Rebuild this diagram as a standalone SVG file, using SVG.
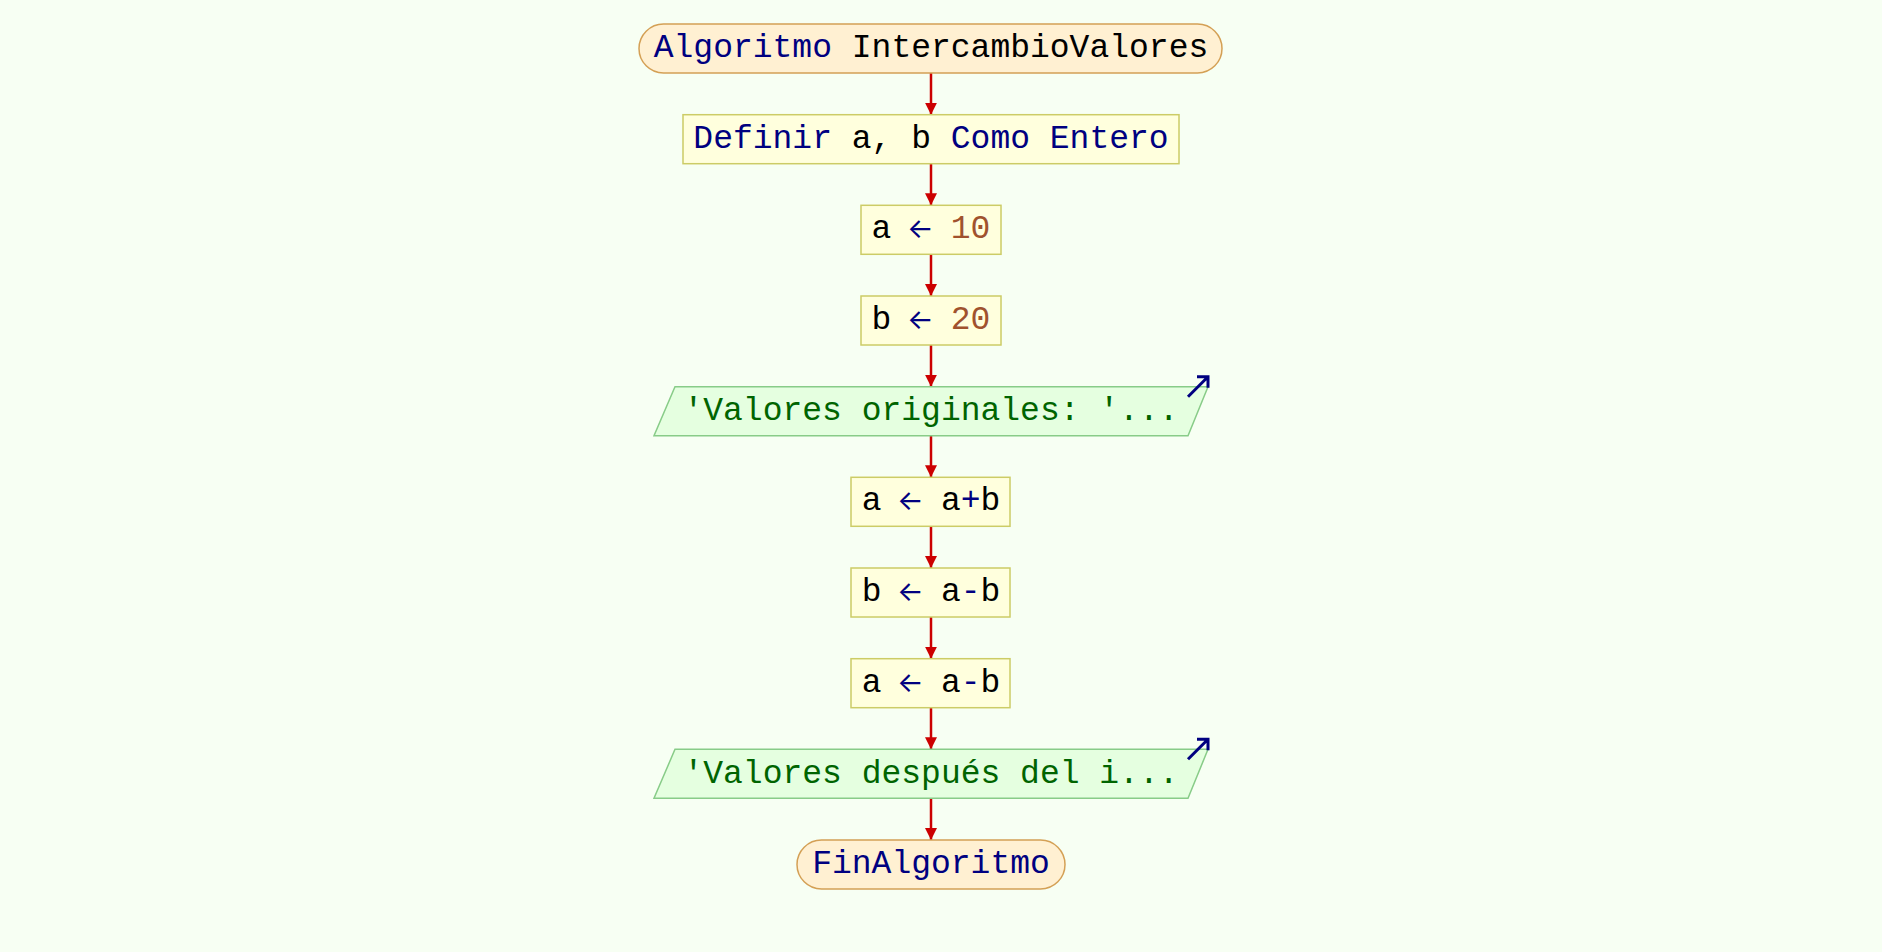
<svg xmlns="http://www.w3.org/2000/svg" width="1882" height="952" viewBox="0 0 1882 952">
<defs>
<style>
text{font-family:"Liberation Mono","DejaVu Sans Mono",monospace;font-size:33px;text-anchor:middle;fill:#000;white-space:pre}
text.st{text-anchor:start}
.term{fill:#FFF0D2;stroke:#D4A055;stroke-width:1.5}
.proc{fill:#FFFFDD;stroke:#CCCC66;stroke-width:1.5}
.io{fill:#E5FFE0;stroke:#88CC88;stroke-width:1.5}
.kw{fill:#000080}
.ar{fill:#000080;font-family:Inter,"DejaVu Sans",sans-serif;font-size:28px}
.num{fill:#A0522D}
.str{fill:#006400}
.conn{stroke:#CC0000;stroke-width:2.5;fill:none;marker-end:url(#ah)}
.icon{stroke:#000080;stroke-width:3;fill:none}
</style>
<marker id="ah" viewBox="0 0 12 12" refX="12" refY="6" markerWidth="12" markerHeight="12" markerUnits="userSpaceOnUse" orient="auto">
<path d="M0,0 L12,6 L0,12 Z" fill="#CC0000"/>
</marker>
</defs>
<rect width="1882" height="952" fill="#F7FFF3"/>
<g id="connectors">
<line class="conn" x1="931" y1="73" x2="931" y2="114.7"/>
<line class="conn" x1="931" y1="163.7" x2="931" y2="205.3"/>
<line class="conn" x1="931" y1="254.3" x2="931" y2="296"/>
<line class="conn" x1="931" y1="345" x2="931" y2="386.7"/>
<line class="conn" x1="931" y1="435.7" x2="931" y2="477.3"/>
<line class="conn" x1="931" y1="526.3" x2="931" y2="568"/>
<line class="conn" x1="931" y1="617" x2="931" y2="658.7"/>
<line class="conn" x1="931" y1="707.7" x2="931" y2="749.3"/>
<line class="conn" x1="931" y1="798.3" x2="931" y2="840"/>
</g>
<g id="n0">
<rect class="term" x="639" y="24" width="583" height="49" rx="24.5"/>
<text x="931" y="57"><tspan class="kw">Algoritmo</tspan> IntercambioValores</text>
</g>
<g id="n1">
<rect class="proc" x="683" y="114.7" width="496" height="49"/>
<text x="931" y="147.7"><tspan class="kw">Definir</tspan> a, b <tspan class="kw">Como Entero</tspan></text>
</g>
<g id="n2">
<rect class="proc" x="861" y="205.3" width="140" height="49"/>
<text class="st" y="238.3"><tspan x="871.6">a</tspan><tspan class="ar" x="907">←</tspan><tspan class="num" x="950.8">10</tspan></text>
</g>
<g id="n3">
<rect class="proc" x="861" y="296" width="140" height="49"/>
<text class="st" y="329"><tspan x="871.6">b</tspan><tspan class="ar" x="907">←</tspan><tspan class="num" x="950.8">20</tspan></text>
</g>
<g id="n4">
<polygon class="io" points="675,386.7 1208,386.7 1188,435.7 654,435.7"/>
<text x="931" y="420" class="str">'Valores originales: '...</text>
<path class="icon" d="M1188,396.7 L1208,376.7 M1197,376.7 L1208,376.7 L1208,387.7"/>
</g>
<g id="n5">
<rect class="proc" x="851" y="477.3" width="159" height="49"/>
<text class="st" y="510.3"><tspan x="861.7">a</tspan><tspan class="ar" x="897.1">←</tspan><tspan x="940.9">a</tspan><tspan class="kw">+</tspan><tspan>b</tspan></text>
</g>
<g id="n6">
<rect class="proc" x="851" y="568" width="159" height="49"/>
<text class="st" y="601"><tspan x="861.7">b</tspan><tspan class="ar" x="897.1">←</tspan><tspan x="940.9">a</tspan><tspan class="kw">-</tspan><tspan>b</tspan></text>
</g>
<g id="n7">
<rect class="proc" x="851" y="658.7" width="159" height="49"/>
<text class="st" y="691.7"><tspan x="861.7">a</tspan><tspan class="ar" x="897.1">←</tspan><tspan x="940.9">a</tspan><tspan class="kw">-</tspan><tspan>b</tspan></text>
</g>
<g id="n8">
<polygon class="io" points="675,749.3 1208,749.3 1188,798.3 654,798.3"/>
<text x="931" y="782.6" class="str">'Valores después del i...</text>
<path class="icon" d="M1188,759.3 L1208,739.3 M1197,739.3 L1208,739.3 L1208,750.3"/>
</g>
<g id="n9">
<rect class="term" x="797" y="840" width="268" height="49" rx="24.5"/>
<text x="931" y="873" class="kw">FinAlgoritmo</text>
</g>
</svg>
